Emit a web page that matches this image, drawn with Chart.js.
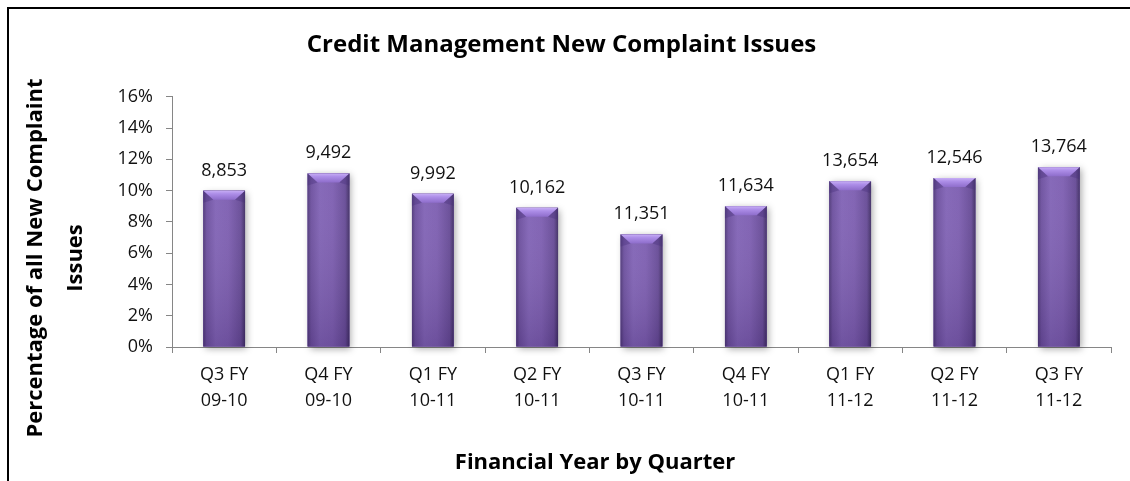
<!DOCTYPE html>
<html>
<head>
<meta charset="utf-8">
<script src="https://cdn.jsdelivr.net/npm/chart.js@4.4.0/dist/chart.umd.min.js"></script>
<style>
  html, body { margin: 0; padding: 0; background: #fff; }
  #wrap { width: 1130px; height: 481px; }
</style>
</head>
<body>
<div id="wrap"><canvas id="complaintChart" width="1130" height="481"></canvas></div>
<script>
// quarters (two-line labels)
const quarters = [
    ['Q3 FY', '09-10'], ['Q4 FY', '09-10'], ['Q1 FY', '10-11'],
    ['Q2 FY', '10-11'], ['Q3 FY', '10-11'], ['Q4 FY', '10-11'],
    ['Q1 FY', '11-12'], ['Q2 FY', '11-12'], ['Q3 FY', '11-12']
];
// share of all new complaint issues, in %
const sharePct = [10.0, 11.1, 9.8, 8.9, 7.2, 9.0, 10.6, 10.8, 11.5];
// number of credit management complaints, shown above each bar
const complaintCounts = [8853, 9492, 9992, 10162, 11351, 11634, 13654, 12546, 13764];
const yMax = 16;
const yStep = 2;
const xTitle = 'Financial Year by Quarter';
const yTitle = ['Percentage of all New Complaint', 'Issues'];

const FONT = "'Open Sans', 'Noto Sans', sans-serif";
const axisGrey = '#868686';

// frame round the chart + white background
const framePlugin = {
    id: 'frame',
    beforeDraw(chart) {
        const c = chart.ctx;
        c.save();
        c.fillStyle = '#fff';
        c.fillRect(0, 0, chart.width, chart.height);
        c.strokeStyle = '#000';
        c.lineWidth = 2;
        c.strokeRect(8, 8, chart.width + 40, chart.height + 40);
        c.restore();
    }
};

// axis titles (placed like the excel original, not centred on the axis)
const axisTitlePlugin = {
    id: 'axisTitles',
    afterDraw(chart) {
        const c = chart.ctx;
        c.save();
        c.fillStyle = '#000';
        c.font = 'bold 22px ' + FONT;
        c.textAlign = 'center';
        c.textBaseline = 'middle';
        c.fillText(xTitle, 595, 463);

        c.translate(0, 258);
        c.rotate(-Math.PI / 2);
        c.fillText(yTitle[0], 0, 36);
        c.fillText(yTitle[1], 0, 76);
        c.restore();
    }
};

// soft shadow behind the bars
const shadowPlugin = {
    id: 'barShadow',
    beforeDatasetsDraw(chart) {
        const c = chart.ctx;
        const meta = chart.getDatasetMeta(0);
        c.save();
        c.shadowColor = 'rgba(0,0,0,0.35)';
        c.shadowBlur = 7;
        c.shadowOffsetX = 2;
        c.shadowOffsetY = 2;
        c.fillStyle = '#6a4d98';
        meta.data.forEach(bar => {
            const p = bar.getProps(['x', 'y', 'base', 'width'], true);
            c.fillRect(p.x - p.width / 2, p.y, p.width, p.base - p.y);
        });
        c.restore();
    }
};

// gradient body, top bevel and the count labels
const barStylePlugin = {
    id: 'barStyle',
    afterDatasetsDraw(chart) {
        const c = chart.ctx;
        const meta = chart.getDatasetMeta(0);
        c.save();
        meta.data.forEach((bar, i) => {
            const p = bar.getProps(['x', 'y', 'base', 'width'], true);
            const l = p.x - p.width / 2, r = p.x + p.width / 2;
            const h = p.base - p.y;

            const g = c.createLinearGradient(l, 0, r, 0);
            g.addColorStop(0, '#4e3878');
            g.addColorStop(0.08, '#6c4f9e');
            g.addColorStop(0.3, '#8163b6');
            g.addColorStop(0.6, '#7d5eb1');
            g.addColorStop(0.9, '#664a96');
            g.addColorStop(1, '#3f2d63');
            c.fillStyle = g;
            c.fillRect(l, p.y, p.width, h);

            // darker towards the bottom
            const v = c.createLinearGradient(0, p.y, 0, p.base);
            v.addColorStop(0, 'rgba(255,255,255,0.04)');
            v.addColorStop(1, 'rgba(30,10,60,0.18)');
            c.fillStyle = v;
            c.fillRect(l, p.y, p.width, h);

            // bevel on top
            const bh = 9, inset = 10;
            const b = c.createLinearGradient(0, p.y, 0, p.y + bh);
            b.addColorStop(0, '#c7aef5');
            b.addColorStop(0.35, '#ad8ee8');
            b.addColorStop(1, '#8e6dcb');
            c.fillStyle = b;
            c.beginPath();
            c.moveTo(l, p.y);
            c.lineTo(r, p.y);
            c.lineTo(r - inset, p.y + bh);
            c.lineTo(l + inset, p.y + bh);
            c.closePath();
            c.fill();
            // side slopes of the bevel
            c.fillStyle = 'rgba(70,45,120,0.35)';
            c.beginPath();
            c.moveTo(l, p.y); c.lineTo(l + inset, p.y + bh); c.lineTo(l, p.y + bh + 3); c.closePath();
            c.fill();
            c.beginPath();
            c.moveTo(r, p.y); c.lineTo(r - inset, p.y + bh); c.lineTo(r, p.y + bh + 3); c.closePath();
            c.fill();

            // count label
            c.fillStyle = '#111';
            c.font = '18px ' + FONT;
            c.textAlign = 'center';
            c.textBaseline = 'alphabetic';
            c.fillText(complaintCounts[i].toLocaleString('en-US'), p.x, p.y - 15);
        });
        c.restore();
    }
};

new Chart(document.getElementById('complaintChart'), {
    type: 'bar',
    data: {
        labels: quarters,
        datasets: [{
            label: 'Share of new complaint issues',
            data: sharePct,
            backgroundColor: '#7859ab',
            borderWidth: 0,
            barPercentage: 0.4,
            categoryPercentage: 1.0
        }]
    },
    options: {
        responsive: false,
        animation: false,
        layout: { padding: { left: 12, right: 19, top: 0, bottom: 0 } },
        plugins: {
            legend: { display: false },
            tooltip: { enabled: false },
            title: {
                display: true,
                text: 'Credit Management New Complaint Issues',
                color: '#000',
                font: { family: FONT, size: 24, weight: 'bold' },
                padding: { top: 31, bottom: 37 }
            }
        },
        scales: {
            x: {
                grid: {
                    display: true,
                    drawOnChartArea: false,
                    drawTicks: true,
                    tickLength: 6,
                    color: axisGrey,
                    offset: true
                },
                border: { display: true, color: axisGrey, width: 1 },
                ticks: {
                    color: '#111',
                    font: { family: FONT, size: 18, lineHeight: 1.45 },
                    padding: 9,
                    maxRotation: 0
                },
                afterFit(scale) { scale.height = 134; }
            },
            y: {
                min: 0,
                max: yMax,
                grid: {
                    display: true,
                    drawOnChartArea: false,
                    drawTicks: true,
                    tickLength: 6,
                    color: axisGrey
                },
                border: { display: true, color: axisGrey, width: 1 },
                ticks: {
                    stepSize: yStep,
                    color: '#111',
                    font: { family: FONT, size: 18 },
                    padding: 13,
                    callback: v => v + '%'
                },
                afterFit(scale) { scale.width = 160; }
            }
        }
    },
    plugins: [framePlugin, shadowPlugin, barStylePlugin, axisTitlePlugin]
});
</script>
</body>
</html>
